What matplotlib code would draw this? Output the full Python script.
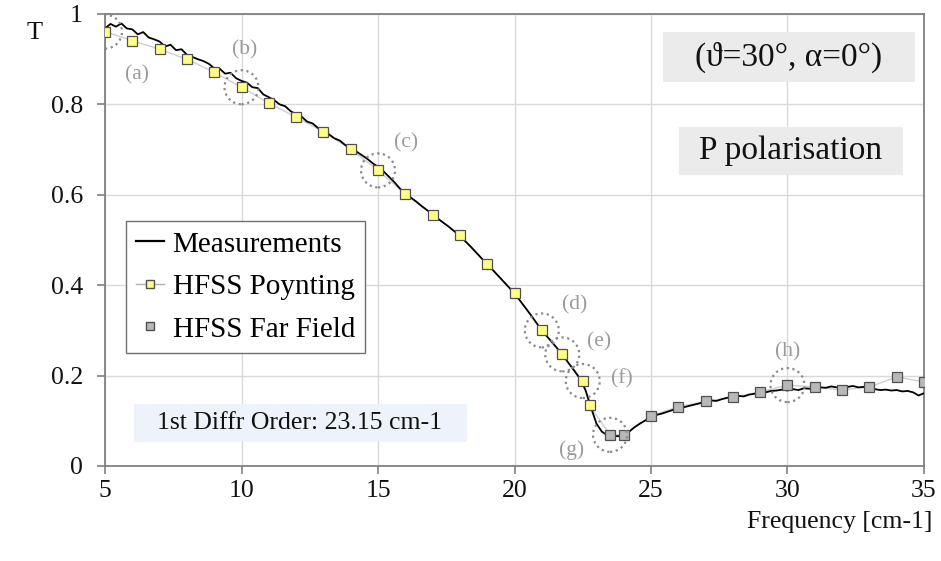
import numpy as np
import matplotlib
matplotlib.use("Agg")
import matplotlib.pyplot as plt
from matplotlib.patches import Ellipse, Rectangle
from matplotlib.lines import Line2D

plt.rcParams['font.family'] = ['Liberation Serif', 'DejaVu Serif']

# ---------------- data ----------------
# Measurement: transmission read on a 0.2 cm-1 grid from 5 to 35 cm-1
meas_T = [
    0.968, 0.978, 0.972, 0.979, 0.968, 0.966, 0.955, 0.960, 0.948, 0.944,
    0.939, 0.928, 0.932, 0.920, 0.922, 0.910, 0.905, 0.900, 0.896, 0.890,
    0.880, 0.879, 0.868, 0.870, 0.858, 0.852, 0.848, 0.838, 0.836, 0.822,
    0.816, 0.809, 0.800, 0.796, 0.785, 0.778, 0.773, 0.762, 0.758, 0.748,
    0.742, 0.734, 0.725, 0.720, 0.710, 0.703, 0.696, 0.688, 0.680, 0.670,
    0.662, 0.652, 0.640, 0.628, 0.614, 0.603, 0.594, 0.585, 0.575, 0.566,
    0.556, 0.547, 0.538, 0.529, 0.519, 0.509, 0.497, 0.485, 0.472, 0.459,
    0.446, 0.434, 0.421, 0.408, 0.395, 0.381, 0.366, 0.350, 0.334, 0.317,
    0.300, 0.286, 0.272, 0.258, 0.243, 0.226, 0.210, 0.193, 0.168, 0.130,
    0.094, 0.076, 0.068, 0.066, 0.066, 0.067, 0.076, 0.086, 0.094, 0.101,
    0.108, 0.113, 0.116, 0.120, 0.124, 0.128, 0.130, 0.133, 0.136, 0.139,
    0.141, 0.145, 0.144, 0.148, 0.151, 0.152, 0.155, 0.154, 0.158, 0.160,
    0.161, 0.163, 0.166, 0.167, 0.169, 0.167, 0.170, 0.168, 0.172, 0.171,
    0.172, 0.174, 0.173, 0.176, 0.174, 0.176, 0.175, 0.177, 0.174, 0.175,
    0.172, 0.170, 0.168, 0.169, 0.167, 0.168, 0.165, 0.166, 0.163, 0.156,
    0.161,
]
meas_freq = np.linspace(5.0, 35.0, len(meas_T))

poynting_freq = [5, 6, 7, 8, 9, 10, 11, 12, 13, 14, 15, 16, 17, 18, 19, 20,
                 21, 21.75, 22.5, 22.75]
poynting_T = [0.961, 0.941, 0.922, 0.900, 0.871, 0.838, 0.803, 0.772, 0.739,
              0.701, 0.654, 0.602, 0.556, 0.511, 0.447, 0.383, 0.300, 0.247,
              0.188, 0.134]

farfield_freq = [23.5, 24, 25, 26, 27, 28, 29, 30, 31, 32, 33, 34, 35]
farfield_T = [0.069, 0.069, 0.111, 0.131, 0.143, 0.152, 0.164, 0.179, 0.175,
              0.168, 0.175, 0.197, 0.186]

# circled points: (series, index, label, label offset in pixels)
circled = [
    ("p", 0, "(a)", (32, -43)),
    ("p", 5, "(b)", (3, 37)),
    ("p", 10, "(c)", (28, 28)),
    ("p", 16, "(d)", (33, 26)),
    ("p", 17, "(e)", (37, 12)),
    ("p", 18, "(f)", (39, 2)),
    ("f", 0, "(g)", (-38, -15)),
    ("f", 7, "(h)", (0, 33)),
]

x_ticks = [5, 10, 15, 20, 25, 30, 35]
y_ticks = [0, 0.2, 0.4, 0.6, 0.8, 1.0]
y_tick_labels = ["0", "0.2", "0.4", "0.6", "0.8", "1"]

# ---------------- figure ----------------
W, H, DPI = 941, 561, 100
fig = plt.figure(figsize=(W / DPI, H / DPI), dpi=DPI)
L, R, T_, B = 105, 924, 14, 466
ax = fig.add_axes([L / W, 1 - B / H, (R - L) / W, (B - T_) / H])

ax.set_xlim(5, 35)
ax.set_ylim(0, 1)
ax.set_xticks(x_ticks)
ax.set_yticks(y_ticks)
ax.set_yticklabels(y_tick_labels)
ax.grid(True, color="#d9d9d9", linewidth=1.0)
ax.set_axisbelow(True)
for s in ax.spines.values():
    s.set_color("#808080")
    s.set_linewidth(1.3)
ax.tick_params(axis="both", direction="out", length=6, width=1.2,
               color="#808080", labelsize=18.5, labelcolor="#111111")
ax.tick_params(axis="x", pad=4)
ax.tick_params(axis="y", pad=10)

# thin light connection line for HFSS points
ax.plot(list(poynting_freq) + list(farfield_freq),
        list(poynting_T) + list(farfield_T),
        color="#cfcfcf", linewidth=1.0, zorder=2)

ax.plot(meas_freq, meas_T, color="black", linewidth=1.3, zorder=3,
        label="Measurements")
ax.plot(poynting_freq, poynting_T, linestyle="none", marker="s",
        markersize=7, markerfacecolor="#ffff88", markeredgecolor="#505050",
        markeredgewidth=0.9, zorder=4)
ax.plot(farfield_freq, farfield_T, linestyle="none", marker="s",
        markersize=7, markerfacecolor="#b8b8b8", markeredgecolor="#505050",
        markeredgewidth=0.9, zorder=4)

# dotted circles and labels
ax_w_px = R - L
ax_h_px = B - T_
rad_px = 17
ew = 2 * rad_px / ax_w_px * 30
eh = 2 * rad_px / ax_h_px * 1.0
for series, idx, lab, (dx, dy) in circled:
    if series == "p":
        cx, cy = poynting_freq[idx], poynting_T[idx]
    else:
        cx, cy = farfield_freq[idx], farfield_T[idx]
    e = Ellipse((cx, cy), ew, eh, fill=False, edgecolor="#8a8a8a",
                linestyle=(0, (1, 1.6)), linewidth=1.6, zorder=5)
    ax.add_patch(e)
    ax.annotate(lab, xy=(cx, cy), xytext=(dx, dy), textcoords="offset pixels",
                ha="center", va="center", fontsize=15.5, color="#9a9a9a",
                zorder=6)

# legend
handles = [
    Line2D([], [], color="black", linewidth=1.6),
    Line2D([], [], color="#b0b0b0", linewidth=1.0, marker="s", markersize=6,
           markerfacecolor="#ffff88", markeredgecolor="#505050"),
    Line2D([], [], linestyle="none", marker="s", markersize=5.5,
           markerfacecolor="#b8b8b8", markeredgecolor="#505050"),
]
leg = ax.legend(handles, ["Measurements", "HFSS Poynting", "HFSS Far Field"],
                loc="upper left", bbox_to_anchor=(0.0256, 0.542),
                fontsize=21, frameon=True, fancybox=False, framealpha=1,
                edgecolor="#707070", handlelength=0.95, handletextpad=0.3,
                borderpad=0.35, labelspacing=0.55, borderaxespad=0)
leg.get_frame().set_linewidth(1.0)
leg.set_zorder(7)

# text boxes (axes fraction)
def box(x0, x1, y0, y1, color):
    ax.add_patch(Rectangle((x0, y0), x1 - x0, y1 - y0, transform=ax.transAxes,
                           facecolor=color, edgecolor="none", zorder=8))

box(0.681, 0.989, 0.850, 0.960, "#ebebeb")
ax.text(0.835, 0.905, "(\u03d1=30\u00b0, \u03b1=0\u00b0)", transform=ax.transAxes,
        ha="center", va="center", fontsize=24, color="#111111", zorder=9)
box(0.701, 0.974, 0.644, 0.750, "#ebebeb")
ax.text(0.8376, 0.697, "P polarisation", transform=ax.transAxes,
        ha="center", va="center", fontsize=24, color="#111111", zorder=9)
box(0.0354, 0.442, 0.053, 0.137, "#edf2fb")
ax.text(0.238, 0.095, "1st Diffr Order: 23.15 cm-1", transform=ax.transAxes,
        ha="center", va="center", fontsize=18.5, color="#111111", zorder=9)

# axis labels
fig.text(35 / W, 1 - 33 / H, "T", ha="center", va="center", fontsize=19,
         color="#111111")
fig.text(932 / W, 1 - 522 / H, "Frequency [cm-1]", ha="right", va="center",
         fontsize=18.5, color="#111111")

fig.savefig("out.png", dpi=DPI)
